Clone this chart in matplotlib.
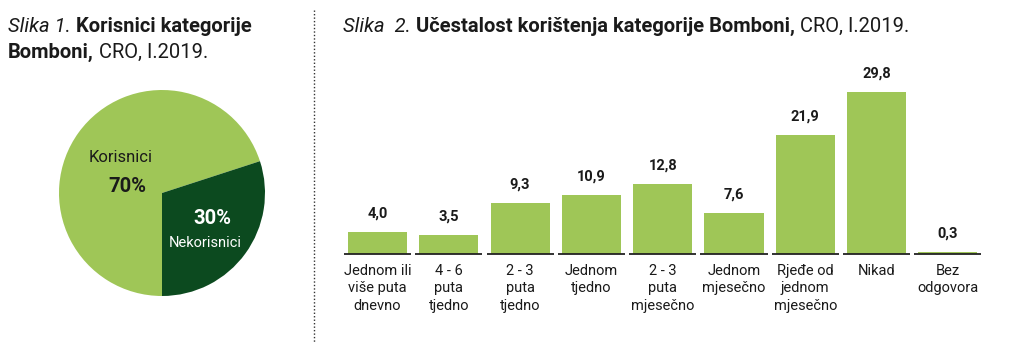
import matplotlib
matplotlib.use("Agg")
import matplotlib.pyplot as plt
from matplotlib.lines import Line2D
import matplotlib.transforms as mtransforms

plt.rcParams['font.family'] = ['Roboto', 'DejaVu Sans']

# data
pie_labels = ["Korisnici", "Nekorisnici"]
pie_values = [70, 30]
categories = ["Jednom ili\nviše puta\ndnevno", "4 - 6\nputa\ntjedno", "2 - 3\nputa\ntjedno",
              "Jednom\ntjedno", "2 - 3\nputa\nmjesečno", "Jednom\nmjesečno",
              "Rjeđe od\njednom\nmjesečno", "Nikad", "Bez\nodgovora"]
values = [4.0, 3.5, 9.3, 10.9, 12.8, 7.6, 21.9, 29.8, 0.3]

LIGHT = "#9fc657"
DARK = "#0c4a1f"
W, H = 1010, 356

fig = plt.figure(figsize=(W / 100, H / 100), dpi=100)


def px(x, y, w, h):
    return [x / W, 1 - (y + h) / H, w / W, h / H]


def rich_text(x, y, parts, size=14.5):
    # draw a row of text pieces with different styles, left to right
    renderer = fig.canvas.get_renderer()
    cur = x / W
    for s, weight, style in parts:
        t = fig.text(cur, 1 - y / H, s, fontsize=size, fontweight=weight,
                     fontstyle=style, va='baseline', ha='left', color='#1a1a1a')
        bb = t.get_window_extent(renderer)
        cur += bb.width / W


# titles
rich_text(8, 32, [("Slika 1. ", "normal", "italic"), ("Korisnici kategorije", "bold", "normal")])
rich_text(8, 58, [("Bomboni,", "bold", "normal"), (" CRO, I.2019.", "normal", "normal")])
rich_text(343, 32, [("Slika  2. ", "normal", "italic"),
                    ("Učestalost korištenja kategorije Bomboni,", "bold", "normal"),
                    (" CRO, I.2019.", "normal", "normal")])

# dotted separator
fig.add_artist(Line2D([314 / W, 314 / W], [1 - 10 / H, 1 - 342 / H], color='#333333',
                      lw=1, linestyle=(0, (1, 1.5))))

# pie
r = 103
axp = fig.add_axes(px(162 - r, 193 - r, 2 * r, 2 * r))
axp.pie(pie_values, colors=[LIGHT, DARK], startangle=18, counterclock=True,
        wedgeprops=dict(linewidth=0))
axp.set_aspect('equal')
axp.set_xlim(-1, 1)
axp.set_ylim(-1, 1)
axp.axis('off')
fig.text(121 / W, 1 - 157 / H, pie_labels[0], fontsize=12, ha='center', va='center', color='#1a1a1a')
fig.text(127 / W, 1 - 186 / H, f"{pie_values[0]}%", fontsize=14.5, fontweight='bold',
         ha='center', va='center', color='#1a1a1a')
fig.text(212 / W, 1 - 218 / H, f"{pie_values[1]}%", fontsize=14.5, fontweight='bold',
         ha='center', va='center', color='white')
fig.text(205 / W, 1 - 243 / H, pie_labels[1], fontsize=10.5, ha='center', va='center', color='white')

# bars
step = 71.3
left = 377.5 - step / 2
top_val = 32
ppu = 162 / 29.8
axb = fig.add_axes(px(left, 254 - top_val * ppu, step * 9, top_val * ppu))
xs = list(range(len(values)))
axb.bar(xs, values, width=0.83, color=LIGHT)
axb.set_xlim(-0.5, len(values) - 0.5)
axb.set_ylim(0, top_val)
axb.axis('off')
for i in xs:
    axb.plot([i - 0.5 + 0.03, i + 0.5 - 0.03], [0, 0], color='#222222', lw=1.3,
             solid_capstyle='butt', clip_on=False)
    axb.text(i, values[i] + 2.1, f"{values[i]:.1f}".replace('.', ','), ha='center', va='bottom',
             fontsize=10.5, fontweight='bold', color='#1a1a1a')
trans = mtransforms.blended_transform_factory(axb.transData, fig.transFigure)
for i, lab in enumerate(categories):
    axb.text(i, 1 - 264 / H, lab, transform=trans, ha='center', va='top',
             fontsize=10.5, linespacing=1.3, color='#1a1a1a')

fig.savefig("out.png", dpi=100)
